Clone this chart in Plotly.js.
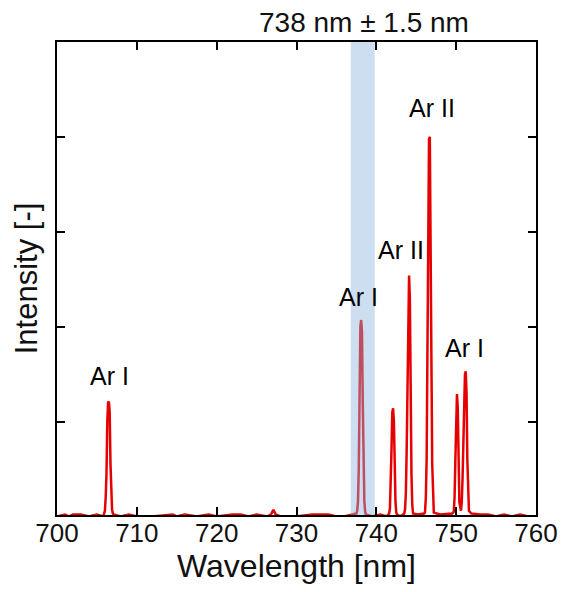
<!DOCTYPE html>
<html>
<head>
<meta charset="utf-8">
<script src="https://cdn.plot.ly/plotly-3.0.1.min.js"></script>
<style>html,body{margin:0;padding:0;background:#fff;}#chart{width:561px;height:592px;}</style>
</head>
<body>
<div id="chart"></div>
<script>
// Spectrum samples
var wavelength = [700, 701, 701.5, 702, 703, 704, 705, 705.8, 705.9, 706.0, 706.1, 706.2, 706.3, 706.4, 706.5, 706.6, 706.7, 706.8, 706.9, 707.0, 707.1, 708, 709, 710, 712, 714.5, 715, 716, 717.5, 719, 720, 722, 723, 724, 725, 726.3, 726.8, 727.1, 727.4, 728, 730, 732, 734, 735, 736, 737.0, 737.5, 737.6, 737.7, 737.8, 737.9, 738.0, 738.1, 738.2, 738.3, 738.4, 738.5, 738.6, 738.7, 739.5, 740.5, 741.3, 741.6, 741.7, 741.8, 741.9, 742.0, 742.1, 742.2, 742.3, 742.4, 742.5, 742.6, 743.0, 743.5, 743.6, 743.7, 743.8, 743.9, 744.0, 744.1, 744.2, 744.3, 744.4, 744.5, 744.6, 745.2, 746.0, 746.1, 746.2, 746.3, 746.4, 746.5, 746.6, 746.7, 746.8, 746.9, 747.0, 747.1, 747.2, 748, 749.5, 749.7, 749.8, 749.9, 750.0, 750.1, 750.2, 750.3, 750.4, 750.6, 750.7, 750.8, 750.9, 751.0, 751.1, 751.2, 751.3, 751.4, 751.5, 751.6, 751.9, 753, 754, 755, 756, 757, 758, 759, 760];
var intensity = [0, 0.02, 0, 0.02, 0.02, 0, 0.02, 0, 0.03, 0.06, 0.2, 0.45, 1.0, 1.2, 1.21, 1.1, 0.55, 0.2, 0.07, 0.03, 0.02, 0, 0.02, 0, 0, 0.02, 0, 0.02, 0, 0.02, 0, 0.02, 0.02, 0, 0.02, 0, 0.02, 0.07, 0.02, 0, 0, 0.02, 0.02, 0, 0, 0.02, 0.03, 0.06, 0.15, 0.5, 1.3, 2.0, 2.07, 1.95, 1.2, 0.45, 0.15, 0.05, 0.02, 0, 0.02, 0, 0.03, 0.08, 0.3, 0.7, 1.1, 1.14, 1.0, 0.5, 0.15, 0.04, 0.02, 0, 0.03, 0.08, 0.25, 0.7, 1.5, 2.45, 2.54, 2.3, 1.2, 0.45, 0.12, 0.03, 0.02, 0.03, 0.05, 0.2, 0.6, 1.65, 3.3, 3.98, 4.0, 3.2, 1.65, 0.55, 0.15, 0.04, 0.02, 0.03, 0.05, 0.2, 0.6, 1.2, 1.29, 1.15, 0.55, 0.15, 0.06, 0.15, 0.4, 0.9, 1.35, 1.5, 1.53, 1.3, 0.6, 0.2, 0.06, 0.03, 0.02, 0.02, 0, 0.02, 0, 0.02, 0, 0];

// Line labels
var labelText = ["Ar I", "Ar I", "Ar II", "Ar II", "Ar I"];
var labelX = [706.6, 737.8, 743.1, 747.0, 751.1];
var labelY = [1.48, 2.31, 2.81, 4.3, 1.77];

// Filter band
var bandRange = [736.8, 739.8];
var bandTitle = "738 nm \u00b1 1.5 nm";
var bandCenter = 738.4;

var xTicks = [700, 710, 720, 730, 740, 750, 760];
var yTicks = [1, 2, 3, 4];

var FONT = "Liberation Sans, Arial, sans-serif";

var annotations = labelText.map(function (t, i) {
  return {x: labelX[i], y: labelY[i], xref: "x", yref: "y", text: t, showarrow: false,
          font: {family: FONT, size: 25, color: "#000"}, xanchor: "center", yanchor: "middle"};
});
annotations.push({x: bandCenter, y: 1, xref: "x", yref: "paper", text: bandTitle, showarrow: false,
  font: {family: FONT, size: 28, color: "#111"}, xanchor: "center", yanchor: "middle", yshift: 20});

var trace = {
  x: wavelength, y: intensity, type: "scatter", mode: "lines",
  line: {color: "#e60000", width: 2.5}, hoverinfo: "none"
};

var layout = {
  width: 561, height: 592,
  margin: {l: 57, r: 25, t: 42, b: 77},
  paper_bgcolor: "#fff", plot_bgcolor: "#fff",
  showlegend: false,
  font: {family: FONT, color: "#000"},
  xaxis: {
    range: [700, 760], tickvals: xTicks, ticktext: xTicks.map(String),
    ticks: "inside", ticklen: 8, tickwidth: 2, tickcolor: "#000",
    showline: true, linewidth: 2, linecolor: "#000", mirror: "ticks",
    showgrid: false, zeroline: false, ticklabelstandoff: -6,
    tickfont: {family: FONT, size: 26, color: "#111"},
    title: {text: "Wavelength [nm]", font: {family: FONT, size: 32, color: "#111"}, standoff: 0}
  },
  yaxis: {
    range: [0.015, 5], tickvals: yTicks, showticklabels: false,
    ticks: "inside", ticklen: 8, tickwidth: 2, tickcolor: "#000",
    showline: true, linewidth: 2, linecolor: "#000", mirror: "ticks",
    showgrid: false, zeroline: false,
    title: {text: "Intensity [-]", font: {family: FONT, size: 31, color: "#111"}, standoff: 8}
  },
  shapes: [{
    type: "rect", xref: "x", yref: "paper", x0: bandRange[0], x1: bandRange[1], y0: 0, y1: 1,
    fillcolor: "rgb(139,180,221)", opacity: 0.44, line: {width: 0}, layer: "above"
  }],
  annotations: annotations
};

Plotly.newPlot("chart", [trace], layout, {displayModeBar: false, staticPlot: true});
</script>
</body>
</html>
